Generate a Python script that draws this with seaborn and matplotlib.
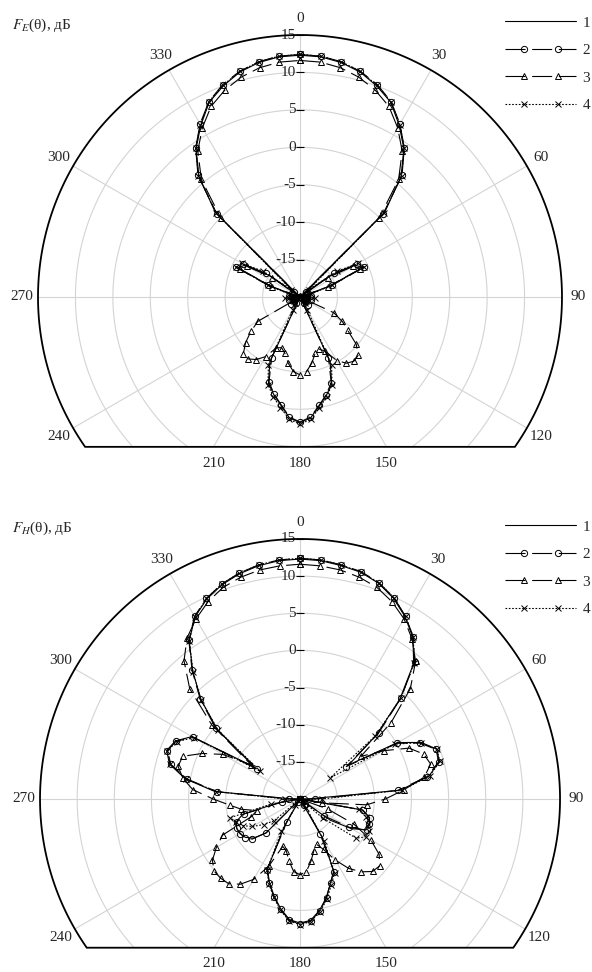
import numpy as np
import matplotlib
matplotlib.use("Agg")
import matplotlib.pyplot as plt
from matplotlib.path import Path
from matplotlib.patches import PathPatch
from matplotlib.lines import Line2D
from matplotlib.legend_handler import HandlerLine2D
import seaborn as sns

sns.set_style("white")
plt.rcParams["font.family"] = ["Liberation Serif", "DejaVu Serif"]
plt.rcParams["mathtext.fontset"] = "stix"

# ── Data: pattern level (dB) every 5 degrees, 0..355 ─────────────
ANGLES = np.arange(0, 360, 5)

E_1 = [12.3, 12.2, 11.8, 11.1, 10.0, 8.7, 6.5, 4.2, 1.0, -4.0, -20.0, -15.0,
       -11.5, -10.7, -16.0, -20.0, -19.0, -20.0, -19.5, -20.0, -18.5, -20.0, -20.0, -19.0,
       -20.0, -20.0, -19.0, -20.0, -20.0, -20.0, -20.0, -10.5, -7.6, -6.4, -5.2, -3.8,
       -3.2, -3.8, -5.3, -6.5, -7.7, -10.5, -20.0, -20.0, -20.0, -19.0, -20.0, -20.0,
       -20.0, -19.0, -20.0, -20.0, -18.5, -20.0, -19.5, -20.0, -19.0, -20.0, -16.0, -10.8,
       -11.5, -15.0, -20.0, -4.0, 1.0, 4.2, 6.5, 8.7, 10.0, 11.1, 11.8, 12.2]
E_2 = [12.4, 12.3, 11.9, 11.2, 10.2, 8.8, 6.7, 4.3, 1.2, -4.3, -19.0, -14.5,
       -11.2, -10.5, -15.5, -19.0, -20.0, -18.5, -20.0, -19.0, -20.0, -18.5, -20.0, -20.0,
       -19.0, -20.0, -20.0, -18.5, -20.0, -19.0, -20.0, -11.0, -7.8, -6.5, -5.3, -3.9,
       -3.3, -3.9, -5.4, -6.6, -7.9, -11.0, -20.0, -19.0, -20.0, -20.0, -18.5, -20.0,
       -19.0, -20.0, -20.0, -18.5, -20.0, -19.0, -20.0, -18.5, -20.0, -19.0, -15.5, -10.5,
       -11.2, -14.5, -19.0, -4.3, 1.2, 4.3, 6.7, 8.8, 10.2, 11.2, 11.9, 12.3]
E_3 = [11.6, 11.5, 11.1, 10.4, 9.4, 8.1, 6.1, 3.8, 0.5, -5.0, -20.0, -15.5,
       -11.8, -11.2, -16.0, -20.0, -20.0, -19.0, -20.0, -20.0, -19.0, -20.0, -20.0, -15.0,
       -13.5, -12.2, -10.2, -9.0, -8.8, -9.2, -10.2, -12.0, -12.6, -12.2, -11.0, -10.0,
       -9.6, -10.0, -11.0, -12.2, -12.8, -12.5, -10.8, -9.8, -9.2, -9.3, -10.5, -12.0,
       -13.5, -20.0, -20.0, -19.0, -20.0, -20.0, -19.0, -20.0, -20.0, -20.0, -16.0, -11.2,
       -11.8, -15.5, -20.0, -5.0, 0.5, 3.8, 6.1, 8.1, 9.4, 10.4, 11.1, 11.5]
E_4 = [12.4, 12.3, 11.9, 11.2, 10.1, 8.8, 6.6, 4.3, 1.1, -4.2, -18.5, -14.0,
       -11.0, -10.6, -15.5, -18.5, -20.0, -19.0, -20.0, -18.0, -20.0, -19.5, -20.0, -19.0,
       -20.0, -19.0, -20.0, -20.0, -19.0, -20.0, -18.0, -10.0, -7.5, -6.2, -5.0, -3.6,
       -3.0, -3.6, -5.0, -6.2, -7.5, -10.0, -18.0, -20.0, -19.0, -20.0, -20.0, -19.0,
       -20.0, -20.0, -19.0, -20.0, -20.0, -18.0, -20.0, -19.5, -20.0, -18.5, -15.5, -10.6,
       -11.0, -14.0, -18.5, -4.2, 1.1, 4.3, 6.6, 8.8, 10.1, 11.2, 11.9, 12.3]

H_1 = [12.3, 12.2, 11.9, 11.6, 10.9, 9.8, 8.3, 6.5, 3.8, -1.0, -6.5, -12.0,
       -4.8, -2.0, -0.4, -0.6, -2.4, -6.5, -19.0, -20.0, -11.5, -10.4, -10.0, -10.2,
       -12.0, -15.0, -20.0, -20.0, -19.0, -20.0, -14.0, -9.3, -8.0, -6.3, -4.8, -3.6,
       -3.3, -3.7, -5.0, -6.5, -8.0, -9.6, -16.0, -20.0, -20.0, -13.5, -11.8, -11.0,
       -10.7, -10.6, -10.8, -12.0, -17.0, -20.0, -19.0, -8.5, -4.3, -1.8, -0.9, -1.5,
       -3.2, -12.5, -5.5, -1.2, 2.5, 6.0, 8.3, 9.7, 10.7, 11.4, 11.9, 12.2]
H_2 = [12.4, 12.3, 12.0, 11.7, 11.0, 9.9, 8.4, 6.6, 4.0, -0.8, -6.2, -12.4,
       -5.0, -2.2, -0.5, -0.7, -2.6, -6.8, -18.0, -19.5, -11.4, -10.3, -10.1, -10.0,
       -12.4, -16.0, -20.0, -19.0, -20.0, -19.0, -14.5, -9.2, -8.0, -6.2, -4.7, -3.5,
       -3.2, -3.6, -4.9, -6.4, -7.9, -9.5, -16.5, -19.5, -20.0, -13.6, -11.6, -10.9,
       -10.7, -10.6, -10.9, -12.2, -17.5, -20.0, -18.5, -8.8, -4.6, -2.0, -1.0, -1.6,
       -3.4, -13.0, -5.2, -1.0, 2.6, 6.1, 8.4, 9.8, 10.8, 11.5, 12.0, 12.3]
H_3 = [11.6, 11.5, 11.3, 10.9, 10.3, 9.3, 8.0, 6.3, 4.2, 1.0, -4.0, -10.0,
       -7.0, -3.8, -2.3, -1.8, -3.0, -6.0, -8.5, -11.0, -17.0, -20.0, -16.0, -12.0,
       -9.0, -7.0, -6.0, -6.2, -7.2, -8.6, -10.5, -12.5, -13.5, -12.8, -11.5, -10.2,
       -9.8, -10.2, -11.5, -12.8, -13.2, -10.0, -7.5, -6.0, -5.1, -4.9, -4.9, -5.6,
       -7.0, -8.5, -13.0, -14.0, -12.0, -10.5, -8.3, -5.5, -4.0, -3.0, -3.2, -5.5,
       -8.0, -12.0, -4.5, 1.0, 4.3, 6.5, 8.0, 9.3, 10.3, 10.9, 11.3, 11.5]
H_4 = [12.4, 12.3, 12.0, 11.6, 11.0, 9.9, 8.4, 6.6, 3.9, -0.8, -6.8, -15.0,
       -5.2, -2.1, -0.4, -0.5, -2.3, -6.2, -17.0, -20.0, -12.0, -10.8, -10.2, -9.8,
       -9.8, -10.8, -16.0, -20.0, -20.0, -18.5, -13.5, -9.0, -7.7, -6.0, -4.6, -3.4,
       -3.1, -3.5, -4.8, -6.3, -7.8, -9.5, -15.0, -20.0, -19.0, -20.0, -15.4, -14.0,
       -12.6, -11.5, -10.8, -10.3, -16.0, -20.0, -18.0, -8.7, -4.4, -1.9, -1.0, -1.7,
       -3.5, -13.5, -5.6, -1.1, 2.4, 6.0, 8.3, 9.8, 10.8, 11.5, 12.0, 12.3]

LABELS = ["1", "2", "3", "4"]
ANGLE_TICKS = list(range(0, 360, 30))
R_TICKS = [-15, -10, -5, 0, 5, 10, 15]
R_MIN, R_MAX = -20, 15

STYLES = [
    dict(linestyle="-", marker=None),
    dict(linestyle=(0, (18, 6)), marker="o"),
    dict(linestyle=(0, (18, 6)), marker="^"),
    dict(linestyle=(0, (1.5, 1.5)), marker="x"),
]
GRID = "#d4d4d4"
CUT = 0.286          # depth of the flat bottom edge below centre (axes fraction)
FS = 11


def panel(ax, series):
    ax.set_theta_zero_location("N")
    ax.set_theta_direction(-1)
    ax.set_facecolor("none")
    ax.grid(False)
    ax.spines["polar"].set_visible(False)

    # outline = circle cut by a horizontal line
    t0 = np.arcsin(-2 * CUT)
    ts = np.linspace(t0, np.pi - t0, 400)
    verts = np.column_stack([0.5 + 0.5 * np.cos(ts), 0.5 + 0.5 * np.sin(ts)])
    verts = np.vstack([verts, verts[:1]])
    clip = Path(verts, closed=True)

    clipped = []
    dense = np.linspace(0, 2 * np.pi, 361)
    for r in R_TICKS[:-1]:
        clipped += ax.plot(dense, np.full_like(dense, r), color=GRID, lw=0.8, zorder=1)
    for a in ANGLE_TICKS:
        clipped += ax.plot([np.deg2rad(a)] * 2, [R_MIN, R_MAX], color=GRID, lw=0.8, zorder=1)

    theta = np.deg2rad(np.append(ANGLES, 360))
    for vals, st in zip(series, STYLES):
        r = np.append(vals, vals[0])
        n0 = len(ax.lines)
        sns.lineplot(x=theta, y=r, ax=ax, sort=False, estimator=None,
                     color="black", lw=0.8, linestyle=st["linestyle"],
                     marker=st["marker"], ms=4.5, mfc="none", mec="black",
                     mew=0.7, zorder=3)
        clipped += ax.lines[n0:]
    for ln in clipped:
        ln.set_clip_path(clip, ax.transAxes)

    ax.add_patch(PathPatch(clip, transform=ax.transAxes, fill=False,
                           ec="black", lw=1.3, clip_on=False, zorder=5))

    ax.set_xticks([])
    ax.set_yticks([])
    ax.set_ylim(R_MIN, R_MAX)

    # radial scale along 0 deg
    ax.plot(np.zeros(len(R_TICKS)), R_TICKS, ls="none", marker="_", ms=6,
            color="black", mew=0.8, clip_on=False, zorder=6)
    for v in R_TICKS:
        ax.annotate(f"{v}", xy=(0, v), xytext=(-3, 0), textcoords="offset points",
                    ha="right", va="center", fontsize=FS)

    # angle labels
    for a in ANGLE_TICKS:
        if 120 < a < 240:
            x = 0.5 + CUT * np.tan(np.deg2rad(180 - a))
            ax.text(x, 0.5 - CUT - 0.031, str(a), transform=ax.transAxes,
                    ha="center", va="center", fontsize=FS)
        else:
            ax.text(np.deg2rad(a), 17.2, str(a), ha="center", va="center", fontsize=FS)


def legend(fig, y_top):
    handles, hmap = [], {}
    for st in STYLES:
        line = Line2D([], [], color="black", lw=0.8, linestyle=st["linestyle"])
        if st["marker"] is None:
            handles.append(line)
            continue
        mk = Line2D([], [], ls="none", marker=st["marker"], ms=4.5,
                    mfc="none", mec="black", mew=0.7)
        hmap[mk] = HandlerLine2D(marker_pad=1.2, numpoints=2)
        handles.append((line, mk))
    fig.legend(handles, LABELS, loc="upper right",
               bbox_to_anchor=(0.997, 1 - y_top / 972), bbox_transform=fig.transFigure,
               frameon=False, fontsize=FS, handlelength=4.65, handletextpad=0.4,
               labelspacing=0.9, borderpad=0, borderaxespad=0, handler_map=hmap)


fig = plt.figure(figsize=(5.92, 9.72), dpi=100)
ax1 = fig.add_axes([0.0642, 0.4249, 0.8851, 0.5391], projection="polar")
ax2 = fig.add_axes([0.0676, -0.0895, 0.8784, 0.5350], projection="polar")

panel(ax1, [E_1, E_2, E_3, E_4])
panel(ax2, [H_1, H_2, H_3, H_4])

fig.text(12 / 592, 1 - 25 / 972, r"$F_E$(θ), дБ", ha="left", va="center", fontsize=FS)
fig.text(12 / 592, 1 - 528 / 972, r"$F_H$(θ), дБ", ha="left", va="center", fontsize=FS)
legend(fig, 16)
legend(fig, 520)

fig.savefig("out.png", dpi=100)
